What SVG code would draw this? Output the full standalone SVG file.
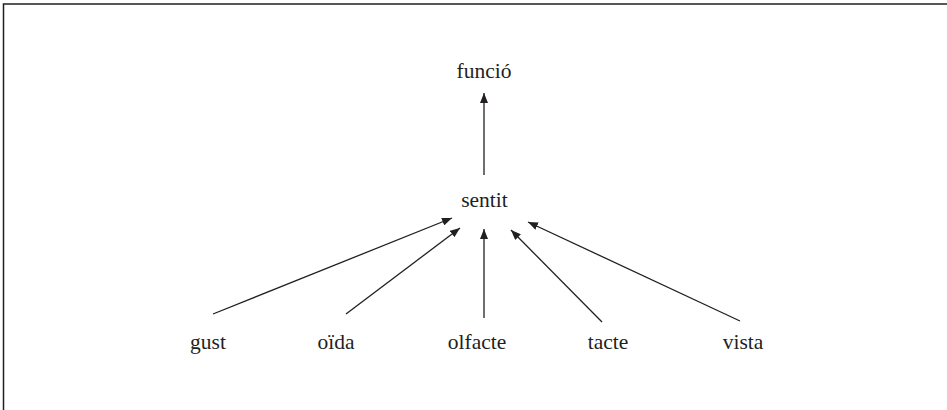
<svg xmlns="http://www.w3.org/2000/svg" width="947" height="410" viewBox="0 0 947 410">
<defs>
<marker id="ah" viewBox="0 0 10 8" refX="10" refY="4" markerWidth="10" markerHeight="8" markerUnits="userSpaceOnUse" orient="auto">
<path d="M0,0 L10,4 L0,8 Z" fill="#231f20"/>
</marker>
<style>
text{font-size:21.5px;fill:#231f20;text-anchor:middle}
.c line{stroke:#231f20;stroke-width:1.3;marker-end:url(#ah)}
</style>
</defs>
<rect width="947" height="410" fill="#fff"/>
<path d="M3.5,410 V4 H947" fill="none" stroke="#231f20" stroke-width="1.5"/>
<g class="c" id="connectors">
<line x1="484" y1="175" x2="484" y2="93"/>
<line x1="213" y1="314" x2="452" y2="218"/>
<line x1="346" y1="314" x2="460" y2="228"/>
<line x1="484" y1="318" x2="484" y2="229"/>
<line x1="602" y1="322" x2="511" y2="230"/>
<line x1="740" y1="321" x2="528" y2="222"/>
</g>
<g font-family="'Liberation Serif', 'Times New Roman', serif">
<g id="funcio"><text x="484" y="78">funció</text></g>
<g id="sentit"><text x="484.5" y="207">sentit</text></g>
<g id="gust"><text x="208" y="349">gust</text></g>
<g id="oida"><text x="336" y="349">oïda</text></g>
<g id="olfacte"><text x="477" y="349">olfacte</text></g>
<g id="tacte"><text x="608" y="349">tacte</text></g>
<g id="vista"><text x="743" y="349">vista</text></g>
</g>
</svg>
